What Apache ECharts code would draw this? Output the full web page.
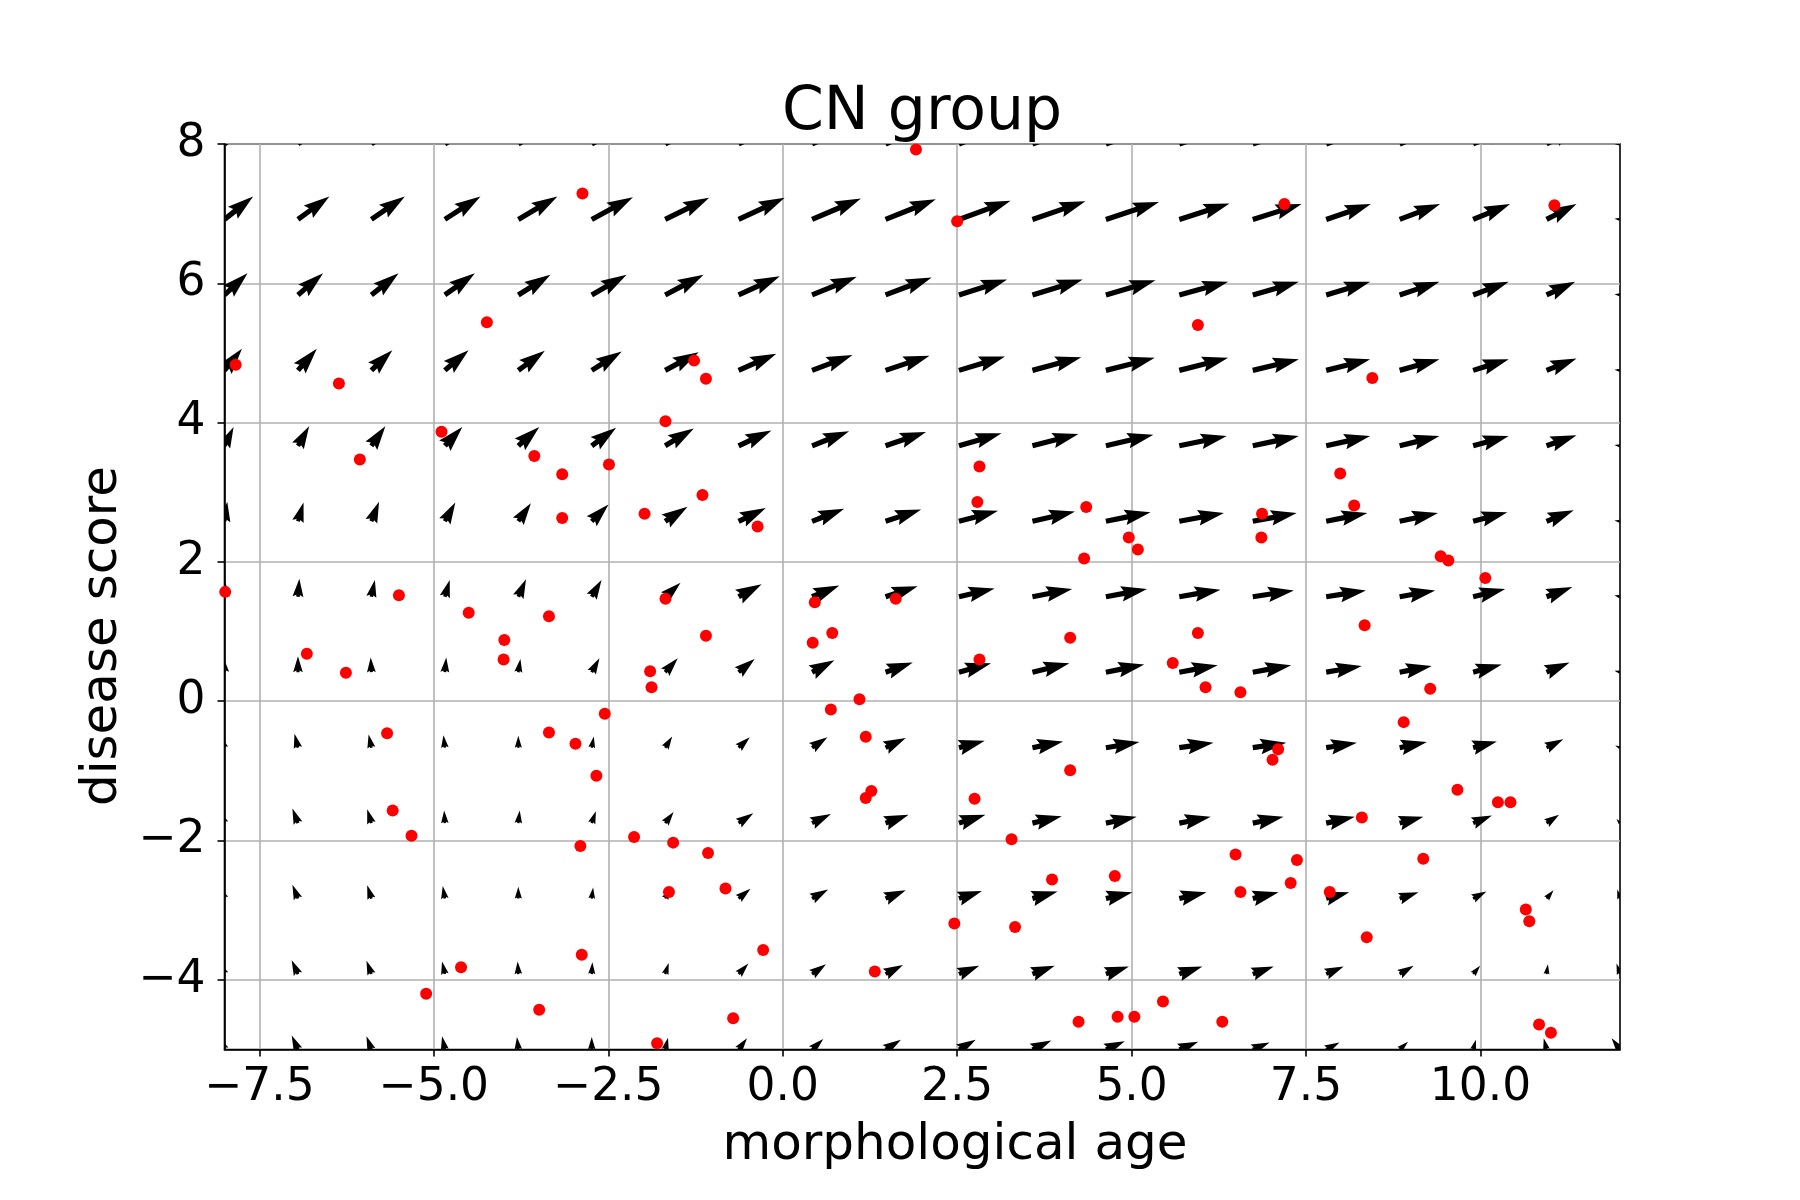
<!DOCTYPE html>
<html>
<head>
<meta charset="utf-8">
<title>CN group</title>
<script src="https://cdn.jsdelivr.net/npm/echarts@6/dist/echarts.min.js"></script>
<style>
  html, body { margin: 0; padding: 0; background: #fff; }
  #chart { width: 1800px; height: 1200px; }
</style>
</head>
<body>
<div id="chart"></div>
<script>
// quiver grid (tails of the arrows)
const gridX = [-8, -6.947, -5.895, -4.842, -3.789, -2.737, -1.684, -0.632, 0.421, 1.474,
  2.526, 3.579, 4.632, 5.684, 6.737, 7.789, 8.842, 9.895, 10.947, 12];
const gridY = [8, 6.917, 5.833, 4.75, 3.667, 2.583, 1.5, 0.417, -0.667, -1.75, -2.833, -3.917, -5];

// arrow extents in data units, one row per gridY value (top to bottom)
const arrowU = [
  [0.43, 0.47, 0.50, 0.54, 0.58, 0.62, 0.66, 0.69, 0.73, 0.75, 0.77, 0.79, 0.79, 0.76, 0.73, 0.67, 0.61, 0.55, 0.45, -0.08],
  [0.41, 0.45, 0.48, 0.51, 0.56, 0.59, 0.63, 0.66, 0.70, 0.72, 0.74, 0.76, 0.76, 0.72, 0.70, 0.64, 0.58, 0.53, 0.43, -0.08],
  [0.33, 0.36, 0.39, 0.43, 0.46, 0.50, 0.55, 0.59, 0.64, 0.66, 0.69, 0.72, 0.71, 0.70, 0.66, 0.63, 0.57, 0.51, 0.41, -0.08],
  [0.25, 0.27, 0.30, 0.34, 0.38, 0.43, 0.48, 0.54, 0.58, 0.63, 0.66, 0.70, 0.70, 0.70, 0.66, 0.63, 0.57, 0.51, 0.43, -0.08],
  [0.13, 0.16, 0.20, 0.25, 0.30, 0.35, 0.41, 0.47, 0.53, 0.58, 0.61, 0.66, 0.68, 0.68, 0.66, 0.63, 0.57, 0.51, 0.43, -0.08],
  [0.04, 0.08, 0.11, 0.15, 0.18, 0.24, 0.32, 0.39, 0.46, 0.51, 0.56, 0.61, 0.64, 0.64, 0.63, 0.59, 0.55, 0.49, 0.39, -0.08],
  [0.00, 0.02, 0.05, 0.07, 0.11, 0.14, 0.22, 0.33, 0.39, 0.46, 0.51, 0.57, 0.59, 0.59, 0.59, 0.57, 0.51, 0.46, 0.37, -0.08],
  [-0.02, 0.00, -0.01, 0.02, 0.03, 0.11, 0.18, 0.23, 0.32, 0.39, 0.46, 0.53, 0.55, 0.55, 0.55, 0.51, 0.46, 0.41, 0.33, -0.08],
  [-0.05, -0.05, -0.04, -0.02, 0.00, 0.03, 0.10, 0.16, 0.22, 0.29, 0.37, 0.44, 0.48, 0.49, 0.48, 0.44, 0.39, 0.34, 0.24, -0.07],
  [-0.08, -0.08, -0.06, -0.01, 0.02, 0.06, 0.12, 0.21, 0.27, 0.33, 0.38, 0.42, 0.44, 0.45, 0.44, 0.41, 0.34, 0.27, 0.18, -0.05],
  [-0.09, -0.08, -0.06, -0.03, 0.00, 0.02, 0.07, 0.17, 0.23, 0.29, 0.33, 0.36, 0.38, 0.39, 0.37, 0.33, 0.27, 0.19, 0.10, -0.04],
  [-0.09, -0.09, -0.07, -0.04, -0.01, 0.01, 0.05, 0.14, 0.20, 0.25, 0.29, 0.32, 0.33, 0.33, 0.30, 0.25, 0.20, 0.10, 0.02, -0.05],
  [-0.09, -0.09, -0.07, -0.04, -0.02, 0.00, 0.04, 0.12, 0.16, 0.22, 0.24, 0.27, 0.27, 0.27, 0.24, 0.19, 0.12, 0.04, -0.04, -0.12]
];
const arrowV = [
  [0.36, 0.36, 0.36, 0.36, 0.36, 0.35, 0.34, 0.34, 0.33, 0.32, 0.30, 0.29, 0.28, 0.26, 0.25, 0.25, 0.25, 0.25, 0.25, 0.00],
  [0.33, 0.33, 0.33, 0.33, 0.33, 0.32, 0.31, 0.31, 0.30, 0.29, 0.27, 0.26, 0.25, 0.23, 0.22, 0.22, 0.22, 0.22, 0.22, 0.01],
  [0.31, 0.31, 0.31, 0.31, 0.29, 0.29, 0.29, 0.27, 0.26, 0.25, 0.22, 0.22, 0.21, 0.19, 0.19, 0.19, 0.19, 0.19, 0.19, 0.01],
  [0.31, 0.31, 0.29, 0.29, 0.28, 0.27, 0.26, 0.24, 0.22, 0.21, 0.20, 0.19, 0.18, 0.18, 0.16, 0.16, 0.16, 0.16, 0.17, 0.01],
  [0.27, 0.28, 0.28, 0.27, 0.27, 0.26, 0.25, 0.22, 0.21, 0.20, 0.18, 0.17, 0.16, 0.14, 0.14, 0.14, 0.14, 0.14, 0.15, 0.01],
  [0.28, 0.27, 0.28, 0.27, 0.26, 0.24, 0.21, 0.19, 0.18, 0.17, 0.15, 0.14, 0.13, 0.12, 0.12, 0.12, 0.12, 0.13, 0.16, 0.01],
  [0.25, 0.26, 0.24, 0.24, 0.25, 0.24, 0.20, 0.18, 0.16, 0.15, 0.12, 0.11, 0.11, 0.10, 0.09, 0.09, 0.09, 0.11, 0.14, 0.02],
  [0.22, 0.23, 0.21, 0.21, 0.19, 0.20, 0.20, 0.19, 0.17, 0.14, 0.13, 0.13, 0.11, 0.10, 0.10, 0.09, 0.09, 0.11, 0.14, 0.02],
  [0.17, 0.20, 0.19, 0.18, 0.17, 0.16, 0.16, 0.15, 0.15, 0.14, 0.10, 0.09, 0.08, 0.07, 0.07, 0.07, 0.08, 0.09, 0.12, 0.03],
  [0.18, 0.21, 0.20, 0.18, 0.18, 0.17, 0.16, 0.14, 0.13, 0.12, 0.12, 0.10, 0.09, 0.09, 0.09, 0.09, 0.09, 0.11, 0.12, 0.06],
  [0.18, 0.20, 0.19, 0.18, 0.17, 0.16, 0.15, 0.14, 0.13, 0.12, 0.11, 0.10, 0.09, 0.09, 0.09, 0.09, 0.09, 0.10, 0.12, 0.13],
  [0.18, 0.20, 0.19, 0.18, 0.18, 0.17, 0.16, 0.15, 0.14, 0.13, 0.12, 0.12, 0.11, 0.11, 0.11, 0.11, 0.12, 0.12, 0.14, 0.15],
  [0.19, 0.20, 0.19, 0.19, 0.18, 0.18, 0.17, 0.16, 0.15, 0.14, 0.14, 0.13, 0.12, 0.11, 0.10, 0.10, 0.11, 0.14, 0.16, 0.16]
];

// subjects (red dots)
const pointX = [-7.84, -7.99, -6.36, -6.82, -6.26, -6.06, -5.67, -5.59, -5.50, -5.32,
  -5.11, -4.89, -4.61, -4.50, -4.24, -3.99, -4.00, -3.56, -3.49, -3.35,
  -3.35, -3.16, -3.16, -2.97, -2.90, -2.88, -2.87, -2.67, -2.55, -2.49,
  -2.13, -1.98, -1.90, -1.88, -1.80, -1.68, -1.68, -1.63, -1.57, -1.27,
  -1.15, -1.10, -1.10, -1.07, -0.82, -0.71, -0.36, -0.28, 0.43, 0.46,
  0.69, 0.71, 1.10, 1.19, 1.19, 1.27, 1.32, 1.62, 1.91, 2.46,
  2.50, 2.79, 2.82, 2.75, 2.82, 3.28, 3.33, 3.86, 4.12, 4.12,
  4.24, 4.32, 4.35, 4.76, 4.80, 4.96, 5.04, 5.09, 5.45, 5.59,
  5.95, 5.95, 6.06, 6.30, 6.49, 6.56, 6.56, 6.86, 6.87, 7.02,
  7.10, 7.19, 7.28, 7.37, 7.84, 7.99, 8.19, 8.30, 8.34, 8.37,
  8.45, 8.90, 9.18, 9.28, 9.43, 9.54, 9.67, 10.07, 10.25, 10.43,
  10.65, 10.70, 10.84, 11.01, 11.06];
const pointY = [4.83, 1.57, 4.56, 0.68, 0.41, 3.47, -0.46, -1.57, 1.52, -1.93,
  -4.20, 3.87, -3.82, 1.27, 5.44, 0.88, 0.60, 3.52, -4.43, 1.22,
  -0.45, 3.26, 2.63, -0.61, -2.08, -3.64, 7.29, -1.07, -0.18, 3.40,
  -1.95, 2.69, 0.43, 0.20, -4.91, 4.02, 1.47, -2.74, -2.03, 4.89,
  2.96, 4.63, 0.94, -2.18, -2.69, -4.55, 2.51, -3.57, 0.84, 1.42,
  -0.12, 0.98, 0.03, -0.51, -1.39, -1.29, -3.88, 1.47, 7.92, -3.19,
  6.89, 2.86, 3.37, -1.40, 0.60, -1.98, -3.24, -2.56, 0.91, -0.99,
  -4.60, 2.05, 2.79, -2.51, -4.53, 2.35, -4.53, 2.18, -4.31, 0.55,
  5.40, 0.98, 0.20, -4.60, -2.20, 0.13, -2.74, 2.35, 2.69, -0.84,
  -0.69, 7.14, -2.61, -2.28, -2.74, 3.27, 2.81, -1.67, 1.09, -3.39,
  4.64, -0.30, -2.26, 0.18, 2.08, 2.02, -1.27, 1.77, -1.45, -1.45,
  -2.99, -3.16, -4.64, -4.76, 7.12];

const xTicks = [-7.5, -5, -2.5, 0, 2.5, 5, 7.5, 10];
const yTicks = [-4, -2, 0, 2, 4, 6, 8];

const quiverData = [];
gridY.forEach((y, r) => {
  gridX.forEach((x, c) => {
    quiverData.push([x, y, arrowU[r][c], arrowV[r][c]]);
  });
});
const scatterData = pointX.map((x, i) => [x, pointY[i]]);

const FONT = "'DejaVu Sans', sans-serif";
const SHAFT = 5.2; // shaft width in px, head sizes follow matplotlib defaults

function minus(s) {
  return String(s).replace('-', '\u2212');
}

// clip a polygon to the plot rectangle (Sutherland-Hodgman)
function clipPolygon(points, r) {
  const x0 = r.x, x1 = r.x + r.width, y0 = r.y, y1 = r.y + r.height;
  const tests = [p => p[0] - x0, p => x1 - p[0], p => p[1] - y0, p => y1 - p[1]];
  let out = points;
  tests.forEach(f => {
    const inp = out;
    out = [];
    for (let i = 0; i < inp.length; i++) {
      const a = inp[i], b = inp[(i + 1) % inp.length];
      const fa = f(a), fb = f(b);
      if (fa >= 0) out.push(a);
      if ((fa >= 0) !== (fb >= 0)) {
        const t = fa / (fa - fb);
        out.push([a[0] + (b[0] - a[0]) * t, a[1] + (b[1] - a[1]) * t]);
      }
    }
  });
  return out;
}

// matplotlib-like arrow polygon, tail at the grid point
function renderArrow(params, api) {
  const x = api.value(0);
  const y = api.value(1);
  const p0 = api.coord([x, y]);
  const p1 = api.coord([x + api.value(2), y + api.value(3)]);
  const dx = p1[0] - p0[0];
  const dy = p1[1] - p0[1];
  const len = Math.sqrt(dx * dx + dy * dy);
  if (len < 0.5) return null;
  const w = SHAFT;
  const hl = 5 * w, hal = 4.5 * w;
  let along, across;
  if (len >= hl) {
    along = [0, len - hal, len - hl, len, len - hl, len - hal, 0];
    across = [0.5, 0.5, 1.5, 0, -1.5, -0.5, -0.5].map(v => v * w);
  } else {
    const s = len / hl;
    along = [0, hl - hal, 0, hl, 0, hl - hal, 0].map(v => v * s);
    across = [0.5, 0.5, 1.5, 0, -1.5, -0.5, -0.5].map(v => v * w * s);
  }
  const ux = dx / len, uy = dy / len;
  const points = along.map((a, i) => [
    p0[0] + a * ux - across[i] * uy,
    p0[1] + a * uy + across[i] * ux
  ]);
  const clipped = clipPolygon(points, params.coordSys);
  if (clipped.length < 3) return null;
  return {
    type: 'polygon',
    shape: { points: clipped },
    style: { fill: '#000' }
  };
}

const chart = echarts.init(document.getElementById('chart'), null, { renderer: 'canvas' });

const option = {
  backgroundColor: '#fff',
  animation: false,
  grid: {
    left: 224.5,
    right: 180,
    top: 144,
    bottom: 150.5,
    show: true,
    borderColor: '#000',
    borderWidth: 1.6,
    backgroundColor: 'transparent'
  },
  xAxis: {
    type: 'value',
    min: -8,
    max: 12,
    axisLine: { show: true, onZero: false, lineStyle: { color: '#000', width: 1.6 } },
    axisTick: { show: true, customValues: xTicks, length: 7, lineStyle: { color: '#000', width: 1.6 } },
    axisLabel: {
      customValues: xTicks,
      formatter: v => minus(v.toFixed(1)),
      fontFamily: FONT,
      fontSize: 45.5,
      color: '#000',
      margin: 16
    },
    splitLine: { show: true, lineStyle: { color: '#b0b0b0', width: 1.6 } }
  },
  yAxis: {
    type: 'value',
    min: -5,
    max: 8,
    axisLine: { show: true, onZero: false, lineStyle: { color: '#000', width: 1.6 } },
    axisTick: { show: true, customValues: yTicks, length: 7, lineStyle: { color: '#000', width: 1.6 } },
    axisLabel: {
      customValues: yTicks,
      formatter: v => minus(v),
      fontFamily: FONT,
      fontSize: 45.5,
      color: '#000',
      margin: 19
    },
    splitLine: { show: true, lineStyle: { color: '#b0b0b0', width: 1.6 } }
  },
  graphic: [
    {
      type: 'text', x: 922, y: 113,
      style: { text: 'CN group', fontFamily: FONT, fontSize: 60, fill: '#000', align: 'center', verticalAlign: 'middle' }
    },
    {
      type: 'text', x: 955, y: 1146,
      style: { text: 'morphological age', fontFamily: FONT, fontSize: 50, fill: '#000', align: 'center', verticalAlign: 'middle' }
    },
    {
      type: 'text', x: 103, y: 636, rotation: Math.PI / 2,
      style: { text: 'disease score', fontFamily: FONT, fontSize: 50, fill: '#000', align: 'center', verticalAlign: 'middle' }
    }
  ],
  series: [
    {
      type: 'custom',
      name: 'field',
      renderItem: renderArrow,
      data: quiverData,
      z: 2
    },
    {
      type: 'scatter',
      name: 'subjects',
      data: scatterData,
      symbol: 'circle',
      symbolSize: 12,
      itemStyle: { color: '#ff0000', opacity: 1 },
      z: 3
    }
  ]
};

chart.setOption(option);
</script>
</body>
</html>
